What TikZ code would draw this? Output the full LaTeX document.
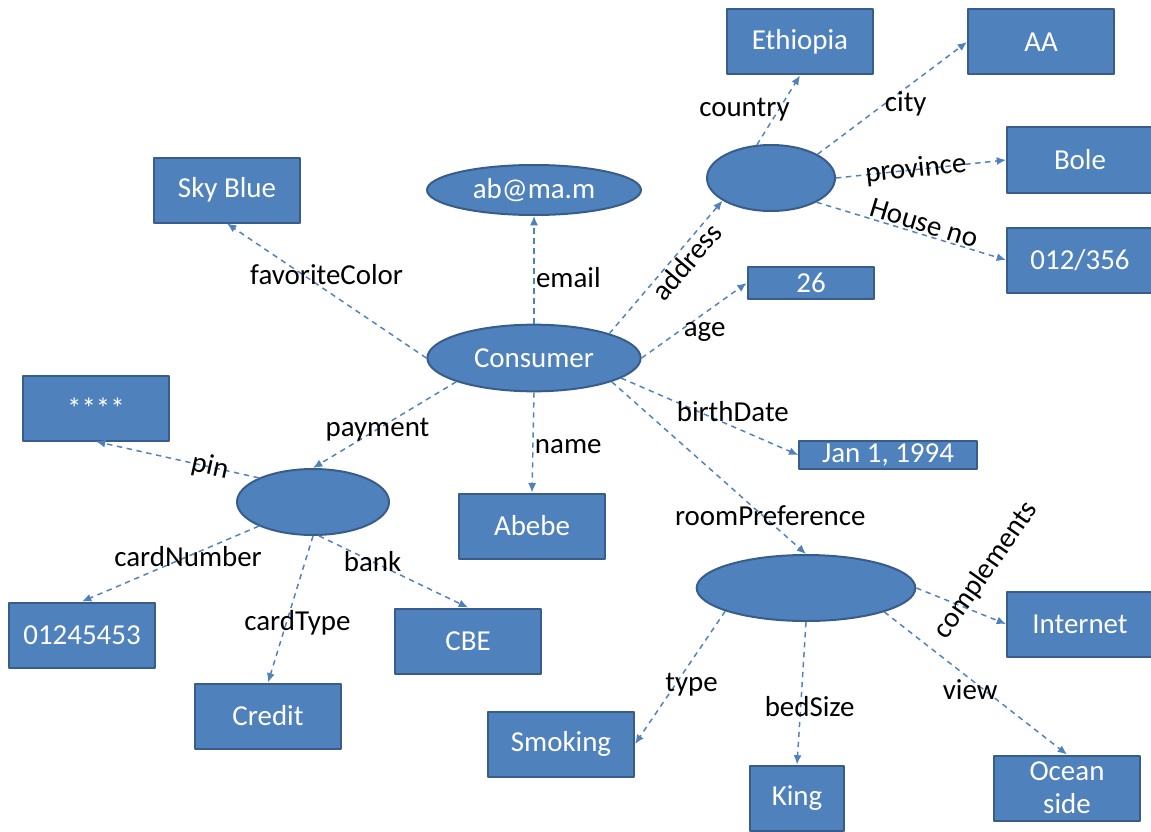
\documentclass[tikz,border=0pt]{standalone}
\usepackage{fontspec}
\setmainfont{Carlito}
\usepackage{tikz}
\usetikzlibrary{arrows.meta,shapes.geometric}
\definecolor{fillblue}{HTML}{4F81BD}
\definecolor{edgeblue}{HTML}{385D8A}
\definecolor{linkblue}{HTML}{4F81BD}
\tikzset{
  box/.style={rectangle, draw=edgeblue, fill=fillblue, line width=1.5pt, text=white,
    minimum width=109.5pt, minimum height=48.75pt, inner sep=1pt, font=\fontsize{21.7}{24.5}\selectfont},
  oval/.style={ellipse, draw=edgeblue, fill=fillblue, line width=1.5pt, text=white,
    minimum height=49.5pt, inner sep=0pt, font=\fontsize{21.7}{24.5}\selectfont},
  lbl/.style={inner sep=1pt, text=black, font=\fontsize{21.7}{24.5}\selectfont},
  link/.style={draw=linkblue, line width=1.1pt, dash pattern=on 4pt off 3.5pt, -{Latex[length=7pt,width=6pt]}},
  every picture/.style={line cap=butt, line join=round}
}

\begin{document}
\begin{tikzpicture}[x=0.75pt, y=-0.75pt]
  \useasboundingbox (0,0) rectangle (1151,831);

  \node[box] (sky) at (227,190) {Sky Blue};
  \node[oval, minimum width=160.5pt, minimum height=37.5pt] (mail) at (534,190) {ab@ma.m};
  \node[oval, minimum width=160pt, minimum height=50pt] (cons) at (534,358) {Consumer};
  \node[box] (name) at (532,526) {Abebe};

  \node[oval, minimum width=96pt] (addr) at (771,178) {};
  \node[box] (eth) at (800,42) {Ethiopia};
  \node[box] (aa) at (1041,42) {AA};
  \node[box] (bole) at (1080,160) {Bole};
  \node[box] (house) at (1080,260) {012/356};
  \node[box, minimum width=95pt, minimum height=24pt, inner sep=0pt] (age) at (811,283) {26};
  \node[box, minimum width=133pt, minimum height=21pt, inner sep=0pt] (birth) at (888,455) {Jan 1, 1994};

  \node[oval, minimum width=114pt] (pay) at (313,502) {};
  \node[box] (pin) at (96,408) {\raisebox{-3pt}{****}};
  \node[box] (card) at (82,635) {01245453};
  \node[box] (bank) at (468,641) {CBE};
  \node[box] (ctype) at (268,716) {Credit};

  \node[oval, minimum width=164pt] (room) at (806,588) {};
  \node[box] (net) at (1080,624) {Internet};
  \node[box] (smoke) at (561,744) {Smoking};
  \node[box, minimum width=70pt] (king) at (797,798) {King};
  \node[box, align=center, inner sep=0pt] (ocean) at (1067,788) {Ocean\\side};

  % consumer
  \draw[link] (cons.west) -- node[lbl, pos=.5, shift={(0,-16)}] {favoriteColor} (sky.south);
  \draw[link] (cons.north) -- node[lbl, pos=.43, right] {email} (mail.south);
  \draw[link] (cons.18) -- node[lbl, pos=.6, sloped, below] {address} (addr.205);
  \draw[link] (cons.east) -- node[lbl, pos=.6, shift={(0,19)}] {age} (age.west);
  \draw[link] (cons.-13) -- node[lbl, pos=.63, shift={(0,-15)}] {birthDate} (birth.west);
  \draw[link] (cons.197) -- node[lbl, pos=.55] {payment} (pay.north);
  \draw[link] (cons.south) -- node[lbl, pos=.54, right] {name} (name.north);
  \draw[link] (cons.-17) -- node[lbl, pos=.78, shift={(7,0)}] {roomPreference} (room.north);

  % address
  \draw[link] (addr.113) -- node[lbl, pos=.5, shift={(-34,0)}] {country} (eth.south);
  \draw[link] (addr.27) -- node[lbl, pos=.59, shift={(0,16)}] {city} (aa.west);
  \draw[link] (addr.east) -- node[lbl, pos=.47, sloped] {province} (bole.west);
  \draw[link] (addr.-28) -- node[lbl, pos=.55, sloped, above] {House no} (house.west);

  % payment
  \draw[link] (pay.156) -- node[lbl, pos=.3, sloped] {pin} (pin.south);
  \draw[link] (pay.204) -- node[lbl, pos=.4] {cardNumber} (card.north);
  \draw[link] (pay.south) -- node[lbl, pos=.59, shift={(11,0)}] {cardType} (ctype.north);
  \draw[link] (pay.-80) -- node[lbl, pos=.36] {bank} (bank.north);

  % room preference
  \draw[link] (room.east) -- node[lbl, pos=.7, shift={(7,-43)}, rotate=55] {complements} (net.west);
  \draw[link] (room.196) -- node[lbl, pos=.55, shift={(16,0)}] {type} (smoke.east);
  \draw[link] (room.south) -- node[lbl, pos=.59, shift={(9,0)}] {bedSize} (king.north);
  \draw[link] (room.-17) -- node[lbl, pos=.47, shift={(0,11)}] {view} (ocean.north);
\end{tikzpicture}
\end{document}
